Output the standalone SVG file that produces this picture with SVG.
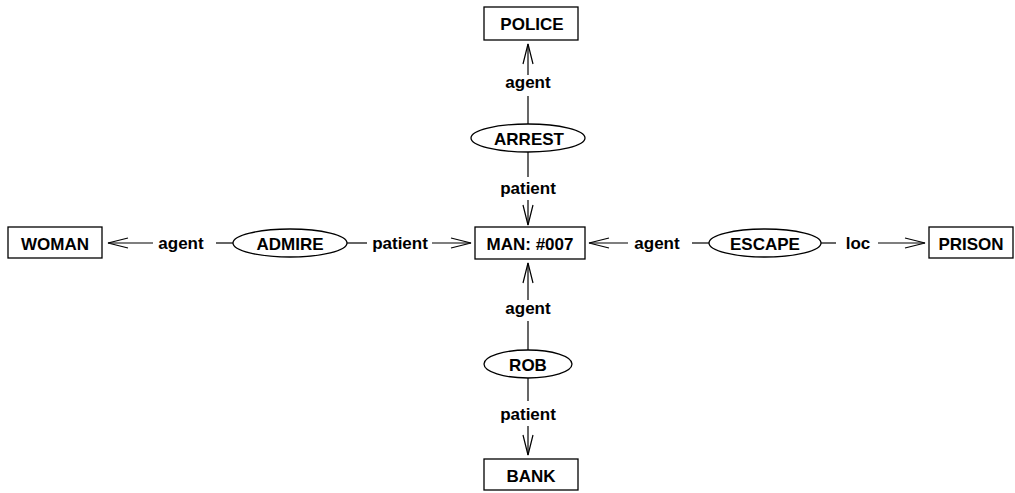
<svg xmlns="http://www.w3.org/2000/svg" width="1015" height="493" viewBox="0 0 1015 493">
  <style>
    .box { fill: #fff; stroke: #000; stroke-width: 1.3; }
    .rel { fill: #fff; stroke: #000; stroke-width: 1.3; }
    .edge { stroke: #000; stroke-width: 1.2; fill: none; }
    .arr { marker-end: url(#arrow); }
    text { font-family: "Liberation Sans", Arial, Helvetica, sans-serif; font-weight: bold; font-size: 17px; text-anchor: middle; fill: #000; }
  </style>
  <defs>
    <!-- open V arrowhead -->
    <marker id="arrow" markerUnits="userSpaceOnUse" markerWidth="24" markerHeight="14" viewBox="-22 -7 24 14" refX="0" refY="0" orient="auto">
      <path d="M-20,-5 L0,0 L-20,5" fill="none" stroke="#000" stroke-width="1.2"/>
    </marker>
  </defs>

  <rect width="1015" height="493" fill="#fff"/>

  <!-- relations between concepts -->
  <g id="connectors">
    <!-- ARREST -> POLICE -->
    <line class="edge" x1="528" y1="124" x2="528" y2="96"/>
    <line class="edge arr" x1="528" y1="75" x2="528" y2="44"/>
    <text x="528" y="88">agent</text>
    <!-- ARREST -> MAN -->
    <line class="edge" x1="528" y1="152" x2="528" y2="177"/>
    <line class="edge arr" x1="528" y1="200" x2="528" y2="225"/>
    <text x="528" y="194">patient</text>
    <!-- ROB -> MAN -->
    <line class="edge" x1="528" y1="350" x2="528" y2="321"/>
    <line class="edge arr" x1="528" y1="300" x2="528" y2="263"/>
    <text x="528" y="314">agent</text>
    <!-- ROB -> BANK -->
    <line class="edge" x1="528" y1="378" x2="528" y2="401"/>
    <line class="edge arr" x1="528" y1="426" x2="528" y2="455"/>
    <text x="528" y="420">patient</text>
    <!-- ADMIRE -> WOMAN -->
    <line class="edge" x1="233" y1="243" x2="216" y2="243"/>
    <line class="edge arr" x1="153" y1="243" x2="108" y2="243"/>
    <text x="181" y="249">agent</text>
    <!-- ADMIRE -> MAN -->
    <line class="edge" x1="347" y1="243" x2="367" y2="243"/>
    <line class="edge arr" x1="432" y1="243" x2="471" y2="243"/>
    <text x="400" y="249">patient</text>
    <!-- ESCAPE -> MAN -->
    <line class="edge" x1="710" y1="243" x2="692" y2="243"/>
    <line class="edge arr" x1="628" y1="243" x2="589" y2="243"/>
    <text x="657" y="249">agent</text>
    <!-- ESCAPE -> PRISON -->
    <line class="edge" x1="821" y1="243" x2="836" y2="243"/>
    <line class="edge arr" x1="878" y1="243" x2="925" y2="243"/>
    <text x="858" y="249">loc</text>
  </g>

  <!-- concept nodes -->
  <g id="police">
    <rect class="box" x="484" y="7" width="94" height="33"/>
    <text x="532" y="30">POLICE</text>
  </g>
  <g id="man">
    <rect class="box" x="475" y="227" width="110" height="32"/>
    <text x="530" y="250">MAN: #007</text>
  </g>
  <g id="bank">
    <rect class="box" x="484" y="459" width="94" height="31"/>
    <text x="531" y="482">BANK</text>
  </g>
  <g id="woman">
    <rect class="box" x="8" y="227" width="94" height="31"/>
    <text x="55" y="250">WOMAN</text>
  </g>
  <g id="prison">
    <rect class="box" x="929" y="227" width="84" height="31"/>
    <text x="971" y="250">PRISON</text>
  </g>

  <!-- relation nodes -->
  <g id="arrest">
    <ellipse class="rel" cx="528" cy="138" rx="57" ry="14"/>
    <text x="529" y="145">ARREST</text>
  </g>
  <g id="rob">
    <ellipse class="rel" cx="528" cy="364" rx="44" ry="14"/>
    <text x="528" y="371">ROB</text>
  </g>
  <g id="admire">
    <ellipse class="rel" cx="290" cy="243" rx="57" ry="14"/>
    <text x="290" y="250">ADMIRE</text>
  </g>
  <g id="escape">
    <ellipse class="rel" cx="765" cy="243" rx="56" ry="14"/>
    <text x="765" y="250">ESCAPE</text>
  </g>
</svg>
